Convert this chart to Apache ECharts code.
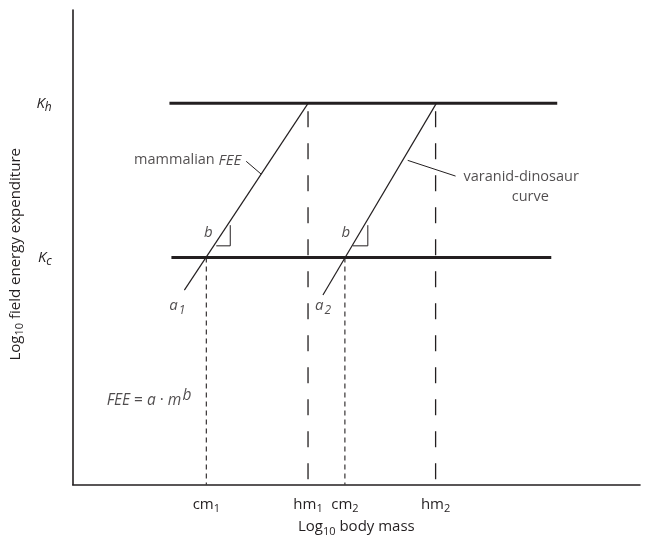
<!DOCTYPE html>
<html><head><meta charset="utf-8">
<script src="https://cdn.jsdelivr.net/npm/echarts@6/dist/echarts.min.js"></script>
<style>html,body{margin:0;padding:0;background:#fff}#c{width:646px;height:542px}</style>
</head><body><div id="c"></div>
<script>
// ---- data (abstract log units) ----
const massTickNames = ['cm{s|1}', 'hm{s|1}', 'cm{s|2}', 'hm{s|2}'];
const massTickValues = [2.355, 4.148, 4.798, 6.397];
const levelNames = ['{k|K}{ks|h}', '{k|K}{ks|c}'];
const levelValues = [8.033, 4.783];
const khSpan = [1.705, 8.541];
const kcSpan = [1.740, 8.436];
const mammalLine = [[1.968, 4.099], [4.148, 8.033]];
const varanidLine = [[4.411, 3.996], [6.41, 8.033]];
const hmDashRange = [7.867, 0.06];
const cmDashRange = [4.783, 0];
const mammalAngle = [[2.531, 5.031], [2.777, 5.031], [2.777, 5.466]];
const varanidAngle = [[4.938, 5.031], [5.202, 5.031], [5.202, 5.466]];
const mammalLeader = [[3.058, 6.812], [3.322, 6.542]];
const varanidLeader = [[5.905, 6.832], [6.749, 6.501]];
const annotations = [
  { text: 'mammalian {i|FEE}', x: 2.970, y: 6.832, align: 'right' },
  { text: 'varanid-dinosaur', x: 6.889, y: 6.480, align: 'left' },
  { text: 'curve', x: 8.067, y: 6.066, align: 'center' },
  { text: '{i|b}', x: 2.390, y: 5.300, align: 'center' },
  { text: '{i|b}', x: 4.815, y: 5.300, align: 'center' },
  { text: '{i|a}{is|1}', x: 1.845, y: 3.768, align: 'center' },
  { text: '{i|a}{is|2}', x: 4.411, y: 3.768, align: 'center' },
  { text: '{f|FEE}{n| = }{f|a}{n| · }{f|m}{sup|b}', x: 0.598, y: 1.76, align: 'left' }
];

const INK = '#231f20';
const FONT = '"Open Sans", sans-serif';
const rich = {
  s: { fontSize: 11, padding: [9, 0, 0, 0], fontFamily: FONT, color: INK },
  i: { fontStyle: 'italic', fontSize: 15, fontFamily: FONT, color: INK },
  is: { fontStyle: 'italic', fontSize: 12, padding: [9, 0, 0, 1], fontFamily: FONT, color: INK },
  f: { fontStyle: 'italic', fontSize: 15.5, fontFamily: FONT, color: INK },
  n: { fontSize: 15.5, fontFamily: FONT, color: INK },
  sup: { fontStyle: 'italic', fontSize: 15.5, padding: [0, 0, 11, 1], fontFamily: FONT, color: INK },
  k: { fontStyle: 'italic', fontSize: 15, fontFamily: FONT, color: INK },
  ks: { fontStyle: 'italic', fontSize: 12, padding: [8, 0, 0, 0], fontFamily: FONT, color: INK }
};

function seg(data, width, type) {
  return {
    type: 'line', data: data, showSymbol: false, silent: true, animation: false,
    lineStyle: { color: INK, width: width, type: type || 'solid', cap: 'butt' }
  };
}

const series = [
  seg([[khSpan[0], levelValues[0]], [khSpan[1], levelValues[0]]], 3),
  seg([[kcSpan[0], levelValues[1]], [kcSpan[1], levelValues[1]]], 3),
  seg(mammalLine, 1.2),
  seg(varanidLine, 1.2),
  seg([[massTickValues[1], hmDashRange[0]], [massTickValues[1], hmDashRange[1]]], 1.3, [16, 16]),
  seg([[massTickValues[3], hmDashRange[0]], [massTickValues[3], hmDashRange[1]]], 1.3, [16, 16]),
  seg([[massTickValues[0], cmDashRange[0]], [massTickValues[0], cmDashRange[1]]], 1.1, [5, 4]),
  seg([[massTickValues[2], cmDashRange[0]], [massTickValues[2], cmDashRange[1]]], 1.1, [5, 4]),
  seg(mammalAngle, 1),
  seg(varanidAngle, 1),
  seg(mammalLeader, 1),
  seg(varanidLeader, 1),
  {
    type: 'scatter', symbolSize: 0, silent: true, animation: false,
    data: annotations.map(a => ({
      value: [a.x, a.y],
      label: { show: true, position: 'inside', formatter: a.text, align: a.align,
               fontSize: 14.5, fontFamily: FONT, color: INK, rich: rich }
    }))
  }
];

const chart = echarts.init(document.getElementById('c'), null, { renderer: 'canvas' });
chart.setOption({
  backgroundColor: '#fff',
  animation: false,
  grid: { left: 71, right: 6, top: 10, bottom: 50, containLabel: false },
  xAxis: {
    type: 'value', min: 0, max: 10,
    name: 'Log{s|10} body mass', nameLocation: 'middle', nameGap: 26,
    nameTextStyle: { fontSize: 15, fontFamily: FONT, color: INK, rich: rich },
    axisLine: { show: true, onZero: false, lineStyle: { color: INK, width: 1.6 } },
    axisTick: { show: false },
    splitLine: { show: false },
    axisLabel: {
      customValues: massTickValues, margin: 10, fontSize: 15, fontFamily: FONT, color: INK, rich: rich,
      formatter: v => { const i = massTickValues.indexOf(v); return i >= 0 ? massTickNames[i] : ''; }
    }
  },
  yAxis: {
    type: 'value', min: 0, max: 10,
    name: 'Log{s|10} field energy expenditure', nameLocation: 'middle', nameGap: 38, nameRotate: 90,
    nameTextStyle: { fontSize: 15, fontFamily: FONT, color: INK, rich: rich, padding: [0, 14, 0, 0] },
    axisLine: { show: true, onZero: false, lineStyle: { color: INK, width: 1.6 } },
    axisTick: { show: false },
    splitLine: { show: false },
    axisLabel: {
      customValues: levelValues, margin: 21, fontSize: 15, fontFamily: FONT, color: INK, rich: rich,
      formatter: v => { const i = levelValues.indexOf(v); return i >= 0 ? levelNames[i] : ''; }
    }
  },
  series: series
});
</script></body></html>
